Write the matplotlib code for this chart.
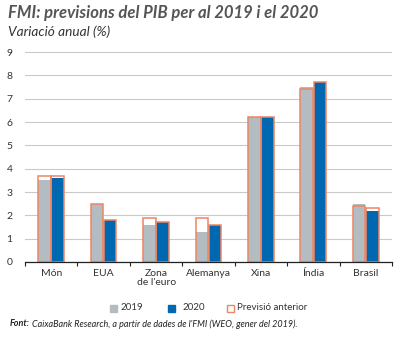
import numpy as np
import matplotlib
matplotlib.use('Agg')
import matplotlib.pyplot as plt
from matplotlib.patches import Rectangle

plt.rcParams['font.family'] = ['Lato', 'DejaVu Sans']

categories = ['Món', 'EUA', 'Zona\nde l\'euro', 'Alemanya', 'Xina', 'Índia', 'Brasil']
gdp_2019 = [3.5, 2.5, 1.6, 1.3, 6.2, 7.5, 2.5]
gdp_2020 = [3.6, 1.8, 1.7, 1.6, 6.2, 7.7, 2.2]
prev_2019 = [3.7, 2.5, 1.9, 1.9, 6.2, 7.4, 2.4]
prev_2020 = [3.7, 1.8, 1.7, 1.6, 6.2, 7.7, 2.3]
yticks = list(range(0, 10))

c_2019 = '#b3bcc1'
c_2020 = '#0067b1'
c_prev = '#f08562'
txt = '#333333'

fig = plt.figure(figsize=(4.1, 3.38), dpi=100)
ax = fig.add_axes([0.061, 0.225, 0.895, 0.627])

x = np.arange(len(categories))
w = 0.24
off = 0.125
ax.bar(x - off, gdp_2019, w, color=c_2019, zorder=2)
ax.bar(x + off, gdp_2020, w, color=c_2020, zorder=2)
ax.bar(x - off, prev_2019, w, fill=False, edgecolor=c_prev, linewidth=1.1, zorder=3)
ax.bar(x + off, prev_2020, w, fill=False, edgecolor=c_prev, linewidth=1.1, zorder=3)

ax.set_xlim(-0.5, len(categories) - 0.5)
ax.set_ylim(0, 9.09)
ax.set_yticks(yticks)
ax.grid(axis='y', color='#c9c9c9', linewidth=0.8, zorder=0)
ax.set_axisbelow(True)
for s in ['top', 'right', 'left']:
    ax.spines[s].set_visible(False)
ax.spines['bottom'].set_color('#222222')
ax.spines['bottom'].set_linewidth(0.9)
ax.spines['bottom'].set_zorder(4)

ax.set_xticks(x)
ax.set_xticklabels(categories, fontsize=7.5, color=txt, linespacing=1.0, va='top')
ax.tick_params(axis='x', length=0, pad=5)
ax.set_xticks(np.arange(-0.5, len(categories)), minor=True)
ax.tick_params(axis='x', which='minor', length=3, width=0.8, color='#222222', direction='out')
ax.tick_params(axis='y', length=0, labelsize=7.5, labelcolor=txt, pad=9)

fig.text(0.02, 1 - 13 / 338, 'FMI: previsions del PIB per al 2019 i el 2020', fontsize=12,
         fontweight='bold', fontstyle='italic', color='#555555', va='center')
fig.text(0.02, 1 - 32 / 338, 'Variació anual (%)', fontsize=9.8, fontstyle='italic',
         color='#333333', va='center')

# legend
ly = 1 - 308 / 338
def legend_item(xpix, textpix, label, fc, ec):
    fig.patches.append(Rectangle((xpix / 410, ly - 3.5 / 338), 7 / 410, 7 / 338,
                                 transform=fig.transFigure,
                                 facecolor=fc, edgecolor=ec, linewidth=1.0))
    fig.text(textpix / 410, ly, label, fontsize=7, color=txt, va='center')

legend_item(110, 121, '2019', c_2019, c_2019)
legend_item(168, 183, '2020', c_2020, c_2020)
legend_item(227, 237, 'Previsió anterior', 'white', c_prev)

fy = 1 - 324 / 338
fig.text(10 / 410, fy, 'Font:', fontsize=6.5, fontweight='bold', fontstyle='italic',
         color='#222222', va='center')
fig.text(32 / 410, fy, "CaixaBank Research, a partir de dades de l'FMI (WEO, gener del 2019).",
         fontsize=6.5, fontstyle='italic', color='#222222', va='center')

fig.savefig('out.png', dpi=100)
